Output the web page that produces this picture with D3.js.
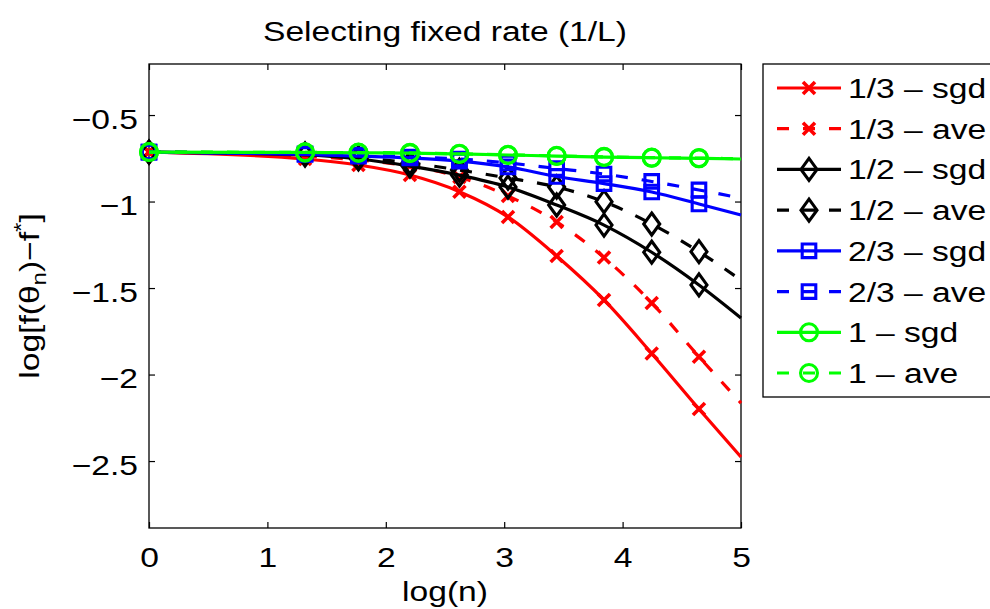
<!DOCTYPE html>
<html>
<head>
<meta charset="utf-8">
<script src="https://cdn.jsdelivr.net/npm/d3@7"></script>
<style>
  body { margin: 0; background: #fff; }
  svg { display: block; }
  text { font-family: "Liberation Sans", Arial, Helvetica, sans-serif; fill: #000; }
</style>
</head>
<body>
<script>
// x = log(n) at each recorded iterate (markers on all but the final point)
const logN = [0, 1.318, 1.769, 2.204, 2.622, 3.032, 3.443, 3.843, 4.246, 4.645, 5.0];

// log[f(theta_n) - f*] for each step-size exponent
const red_sgd   = [-0.714, -0.754, -0.789, -0.847, -0.943, -1.089, -1.315, -1.569, -1.878, -2.199, -2.477];
const red_ave   = [-0.714, -0.737, -0.760, -0.795, -0.858, -0.968, -1.118, -1.324, -1.586, -1.897, -2.165];
const black_sgd = [-0.714, -0.731, -0.754, -0.795, -0.847, -0.916, -1.020, -1.136, -1.293, -1.482, -1.673];
const black_ave = [-0.714, -0.725, -0.746, -0.777, -0.818, -0.864, -0.916, -1.001, -1.130, -1.290, -1.454];
const blue_sgd  = [-0.714, -0.728, -0.737, -0.748, -0.766, -0.800, -0.855, -0.896, -0.945, -1.014, -1.078];
const blue_ave  = [-0.714, -0.725, -0.731, -0.743, -0.754, -0.777, -0.809, -0.841, -0.884, -0.933, -0.980];
const green_sgd = [-0.714, -0.716, -0.718, -0.720, -0.725, -0.731, -0.737, -0.743, -0.747, -0.750, -0.754];
const green_ave = [-0.714, -0.716, -0.717, -0.719, -0.724, -0.730, -0.736, -0.742, -0.746, -0.749, -0.753];

const legendLabels = ["1/3 \u2013 sgd", "1/3 \u2013 ave", "1/2 \u2013 sgd", "1/2 \u2013 ave",
                      "2/3 \u2013 sgd", "2/3 \u2013 ave", "1 \u2013 sgd", "1 \u2013 ave"];
const xTicks = [0, 1, 2, 3, 4, 5];
const yTicks = [-2.5, -2, -1.5, -1, -0.5];

const titleText = "Selecting fixed rate (1/L)";
const xLabelText = "log(n)";

const series = [
  { values: red_sgd,   color: "#ff0000", dashed: false, marker: "x" },
  { values: red_ave,   color: "#ff0000", dashed: true,  marker: "x" },
  { values: black_sgd, color: "#000000", dashed: false, marker: "diamond" },
  { values: black_ave, color: "#000000", dashed: true,  marker: "diamond" },
  { values: blue_sgd,  color: "#0000ff", dashed: false, marker: "square" },
  { values: blue_ave,  color: "#0000ff", dashed: true,  marker: "square" },
  { values: green_sgd, color: "#00ff00", dashed: false, marker: "circle" },
  { values: green_ave, color: "#00ff00", dashed: true,  marker: "circle" }
].map((s, i) => ({ ...s, label: legendLabels[i] }));

const W = 990, H = 609;
const box = { left: 149, right: 741, top: 64, bottom: 528 };
const FONT = 28, STRETCH = 1.2, LW = 3.2, DASH = "12,14";

const svg = d3.select("body").append("svg").attr("width", W).attr("height", H);

const x = d3.scaleLinear().domain([0, 5]).range([box.left, box.right]);
const y = d3.scaleLinear().domain([-2.887, -0.205]).range([box.bottom, box.top]);

// wide-set label text
function label(parent, px, py, str, anchor, rot) {
  const g = parent.append("g")
    .attr("transform", `translate(${px},${py}) rotate(${rot || 0}) scale(${STRETCH},1)`);
  return g.append("text").attr("text-anchor", anchor).style("font-size", FONT + "px").text(str);
}

const fmt = v => (v < 0 ? "\u2212" : "") + Math.abs(v);

// axes with inward ticks on all four sides
const gx = svg.append("g").attr("transform", `translate(0,${box.bottom})`)
  .call(d3.axisBottom(x).tickValues(xTicks).tickSizeInner(-6).tickSizeOuter(0).tickFormat(fmt));
const gxt = svg.append("g").attr("transform", `translate(0,${box.top})`)
  .call(d3.axisTop(x).tickValues(xTicks).tickSizeInner(-6).tickSizeOuter(0).tickFormat(""));
const gy = svg.append("g").attr("transform", `translate(${box.left},0)`)
  .call(d3.axisLeft(y).tickValues(yTicks).tickSizeInner(-6).tickSizeOuter(0).tickFormat(fmt));
const gyr = svg.append("g").attr("transform", `translate(${box.right},0)`)
  .call(d3.axisRight(y).tickValues(yTicks).tickSizeInner(-6).tickSizeOuter(0).tickFormat(""));

[gx, gxt, gy, gyr].forEach(g => {
  g.select(".domain").remove();
  g.selectAll(".tick line").attr("stroke", "#000").attr("stroke-width", 1.2);
});
gx.selectAll(".tick text")
  .attr("y", 39).attr("dy", null)
  .attr("transform", `scale(${STRETCH},1)`)
  .style("font-size", FONT + "px").attr("font-family", null);
gy.selectAll(".tick text")
  .attr("x", -11 / STRETCH).attr("dy", null).attr("y", 13)
  .attr("transform", `scale(${STRETCH},1)`)
  .style("font-size", FONT + "px").attr("font-family", null);
gyr.selectAll(".tick text").remove();
gxt.selectAll(".tick text").remove();

svg.append("rect")
  .attr("x", box.left).attr("y", box.top)
  .attr("width", box.right - box.left).attr("height", box.bottom - box.top)
  .attr("fill", "none").attr("stroke", "#000").attr("stroke-width", 1.3);

// marker shapes
function markerPath(kind) {
  switch (kind) {
    case "x": { const s = 6; return `M${-s},${-s}L${s},${s}M${-s},${s}L${s},${-s}`; }
    case "diamond": { const w = 8, h = 11; return `M0,${-h}L${w},0L0,${h}L${-w},0Z`; }
    case "square": { const s = 6.8; return `M${-s},${-s}H${s}V${s}H${-s}Z`; }
    case "circle": { const r = 8.5; return `M${r},0A${r},${r} 0 1,1 ${-r},0A${r},${r} 0 1,1 ${r},0Z`; }
  }
}
const markerWidth = k => (k === "x" ? 3.6 : 3.1);

const line = d3.line().x((d, i) => x(logN[i])).y(d => y(d)).curve(d3.curveMonotoneX);

const plot = svg.append("g");
series.forEach(s => {
  const g = plot.append("g");
  g.append("path")
    .attr("d", line(s.values))
    .attr("fill", "none").attr("stroke", s.color).attr("stroke-width", LW)
    .attr("stroke-dasharray", s.dashed ? DASH : null)
    .attr("stroke-linejoin", "round");
  g.selectAll("path.mk")
    .data(s.values.slice(0, s.values.length - 1))
    .join("path").attr("class", "mk")
    .attr("transform", (d, i) => `translate(${x(logN[i])},${y(d)})`)
    .attr("d", markerPath(s.marker))
    .attr("fill", "none").attr("stroke", s.color).attr("stroke-width", markerWidth(s.marker));
});

// title and axis labels
label(svg, (box.left + box.right) / 2, 41, titleText, "middle");
label(svg, (box.left + box.right) / 2, 601, xLabelText, "middle");
const yl = label(svg, 39, (box.top + box.bottom) / 2, "", "middle", -90);
yl.append("tspan").text("log[f(\u03b8");
yl.append("tspan").text("n").style("font-size", "20px").attr("dy", 7);
yl.append("tspan").text(")\u2212f").attr("dy", -7);
yl.append("tspan").text("*").style("font-size", "20px").attr("dy", -11);
yl.append("tspan").text("]").attr("dy", 11);

// legend
const leg = svg.append("g");
leg.append("rect")
  .attr("x", 763).attr("y", 64).attr("width", 260).attr("height", 333)
  .attr("fill", "#fff").attr("stroke", "#000").attr("stroke-width", 1.3);
const rowY = d3.scalePoint().domain(d3.range(series.length)).range([88, 373]);
series.forEach((s, i) => {
  const cy = rowY(i);
  leg.append("line")
    .attr("x1", 777).attr("x2", 841).attr("y1", cy).attr("y2", cy)
    .attr("stroke", s.color).attr("stroke-width", LW)
    .attr("stroke-dasharray", s.dashed ? DASH : null);
  leg.append("path")
    .attr("transform", `translate(809,${cy})`)
    .attr("d", markerPath(s.marker))
    .attr("fill", "none").attr("stroke", s.color).attr("stroke-width", markerWidth(s.marker));
  label(leg, 848, cy + 10, s.label, "start");
});
</script>
</body>
</html>
